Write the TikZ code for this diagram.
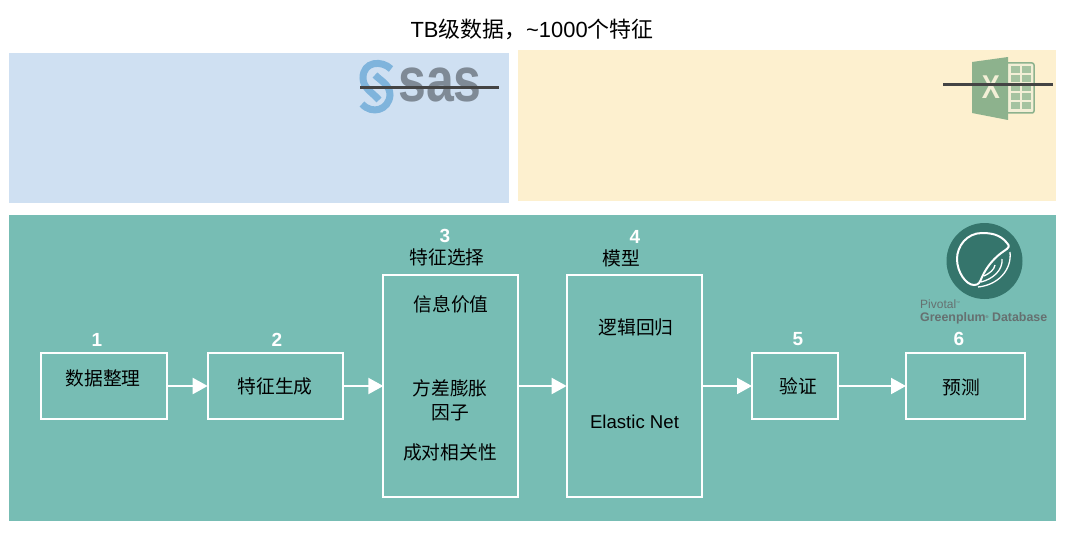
\documentclass[tikz,border=0pt]{standalone}
\usepackage{fontspec}
\setmainfont{Liberation Sans}
\newfontfamily\cjk{Noto Sans CJK SC}
\usetikzlibrary{arrows.meta}
\definecolor{bluebg}{HTML}{CFE0F2}
\definecolor{yellowbg}{HTML}{FDF0CF}
\definecolor{tealbg}{HTML}{77BDB4}
\definecolor{tealdark}{HTML}{35756C}
\definecolor{strike}{HTML}{444444}
\definecolor{sasgray}{HTML}{7F8A96}
\definecolor{sasblue}{HTML}{7FB4DC}
\definecolor{xlgreen}{HTML}{8DB28D}
\definecolor{xlcell}{HTML}{A5C3A0}
\definecolor{xlpale}{HTML}{F3EFD6}
\definecolor{gpgray}{HTML}{667070}
\tikzset{
  panel/.style={fill=#1,draw=none},
  stepbox/.style={draw=white,line width=2pt,fill=none,inner sep=0pt,outer sep=0pt},
  flow/.style={draw=white,line width=2pt,-{Triangle[length=15pt,width=16pt]}},
  cn/.style={inner sep=0pt,text=black,align=center,font=\fontsize{18.75}{24}\selectfont\cjk},
  en/.style={inner sep=0pt,text=black,font=\fontsize{18.6}{22}\selectfont},
  num/.style={inner sep=0pt,text=white,font=\fontsize{19}{22}\selectfont\bfseries},
  strikeout/.style={draw=strike,line width=3pt},
  logoline/.style={draw=white,line width=2pt,fill=none},
  gptext/.style={inner sep=0pt,anchor=west,text=gpgray}
}
\begin{document}
\begin{tikzpicture}[x=1pt,y=-1pt]
\useasboundingbox (0,0) rectangle (1080,535);
\fill[white] (0,0) rectangle (1080,535);
\fill[panel=bluebg] (9,53) rectangle (509,203);
\fill[panel=yellowbg] (518,50) rectangle (1056,201);
\fill[panel=tealbg] (9,215) rectangle (1056,521);
\node[inner sep=0pt,font=\fontsize{21.9}{24}\selectfont] (title) at (532,29) {TB{\cjk 级数据，}\textasciitilde 1000{\cjk 个特征}};
% SAS logo
\draw[sasblue,line width=7pt] (391,69) .. controls (382,60) and (363,61) .. (363,78) .. controls (363,88) and (372,92) .. (379,100);
\draw[sasblue,line width=7pt] (375,75) .. controls (381,81) and (390,85) .. (390,95) .. controls (389,110) and (372,115) .. (362,104);
\node[inner sep=0pt,text=sasgray,xscale=1,yscale=1.25,font=\fontsize{50}{50}\selectfont\bfseries] (sas) at (440,85) {sas};
\coordinate (s1) at (360,88); \coordinate (s2) at (499,88);
\draw[strikeout] (s1) -- (s2);
% Excel logo
\fill[rounded corners=2pt,xlpale,draw=xlgreen,line width=1.5pt] (1000,63) rectangle (1034,113);
\foreach \yy in {66,75,84,93,102}{
  \fill[xlcell] (1011,\yy) rectangle (1020,\yy+7);
  \fill[xlcell] (1022,\yy) rectangle (1031,\yy+7);
}
\fill[xlgreen] (972,62) -- (1008,57) -- (1008,120) -- (972,113) -- cycle;
\node[inner sep=0pt,text=xlpale,xscale=.82,font=\fontsize{33}{33}\selectfont\bfseries] (xl) at (991,87) {X};
\coordinate (x1) at (943,85); \coordinate (x2) at (1053,85);
\draw[strikeout] (x1) -- (x2);
% Greenplum logo
\fill[tealdark] (984.5,261) circle[radius=38];
\draw[logoline] (1007,243) .. controls (1000,234) and (990,233) .. (982,233) .. controls (967,233) and (957,246) .. (957,259) .. controls (957,272) and (966,285) .. (974,285) .. controls (979,285) and (980,282) .. (982,277) .. controls (987,266) and (995,257) .. (1004,251) .. controls (1009,248) and (1010,246) .. (1007,243) -- cycle;
\draw[draw=white,line width=1.3pt] (1010,252) .. controls (1012,270) and (998,285) .. (978,287);
\draw[draw=white,line width=1.3pt] (1002,259) .. controls (1003,270) and (993,279) .. (981,282);
\draw[draw=white,line width=1.3pt] (995,265) .. controls (994,270) and (990,273) .. (984,276);
\node[gptext,font=\fontsize{12}{13}\selectfont] (pivotal) at (920,304) {Pivotal\raisebox{4pt}{\fontsize{4}{4}\selectfont ™}};
\node[gptext,font=\fontsize{12.4}{13}\selectfont\bfseries] (gp) at (920,318.5) {Greenplum\raisebox{3pt}{\fontsize{4}{4}\selectfont ®} Database};
% Step boxes
\node[stepbox,minimum width=126pt,minimum height=66pt] (b1) at (104,386) {};
\node[stepbox,minimum width=135pt,minimum height=66pt] (b2) at (275.2,386) {};
\node[stepbox,minimum width=134.7pt,minimum height=222pt] (b3) at (450.7,386) {};
\node[stepbox,minimum width=135.3pt,minimum height=222pt] (b4) at (634.3,386) {};
\node[stepbox,minimum width=86pt,minimum height=66pt] (b5) at (795,386) {};
\node[stepbox,minimum width=119pt,minimum height=66pt] (b6) at (965.5,386) {};
\draw[flow] (b1) -- (b2);
\draw[flow] (b2) -- (b3);
\draw[flow] (b3) -- (b4);
\draw[flow] (b4) -- (b5);
\draw[flow] (b5) -- (b6);
% Numbers
\node[num] (n1) at (97,340) {1};
\node[num] (n2) at (277,340) {2};
\node[num] (n3) at (445,236) {3};
\node[num] (n4) at (635,237) {4};
\node[num] (n5) at (798,339) {5};
\node[num] (n6) at (959,339) {6};
% Labels
\node[cn] (t1) at (103,378) {数据整理};
\node[cn] (t2) at (275,386) {特征生成};
\node[cn] (t3) at (447,257) {特征选择};
\node[cn] (t3a) at (451,304) {信息价值};
\node[cn,align=center] (t3b) at (450,400.5) {方差膨胀\\[-0.5pt]因子};
\node[cn] (t3c) at (450,452) {成对相关性};
\node[cn] (t4) at (621,258) {模型};
\node[cn] (t4a) at (636,327) {逻辑回归};
\node[en] (t4b) at (634.5,422) {Elastic Net};
\node[cn] (t5) at (798,386) {验证};
\node[cn] (t6) at (961,387) {预测};
\end{tikzpicture}
\end{document}
